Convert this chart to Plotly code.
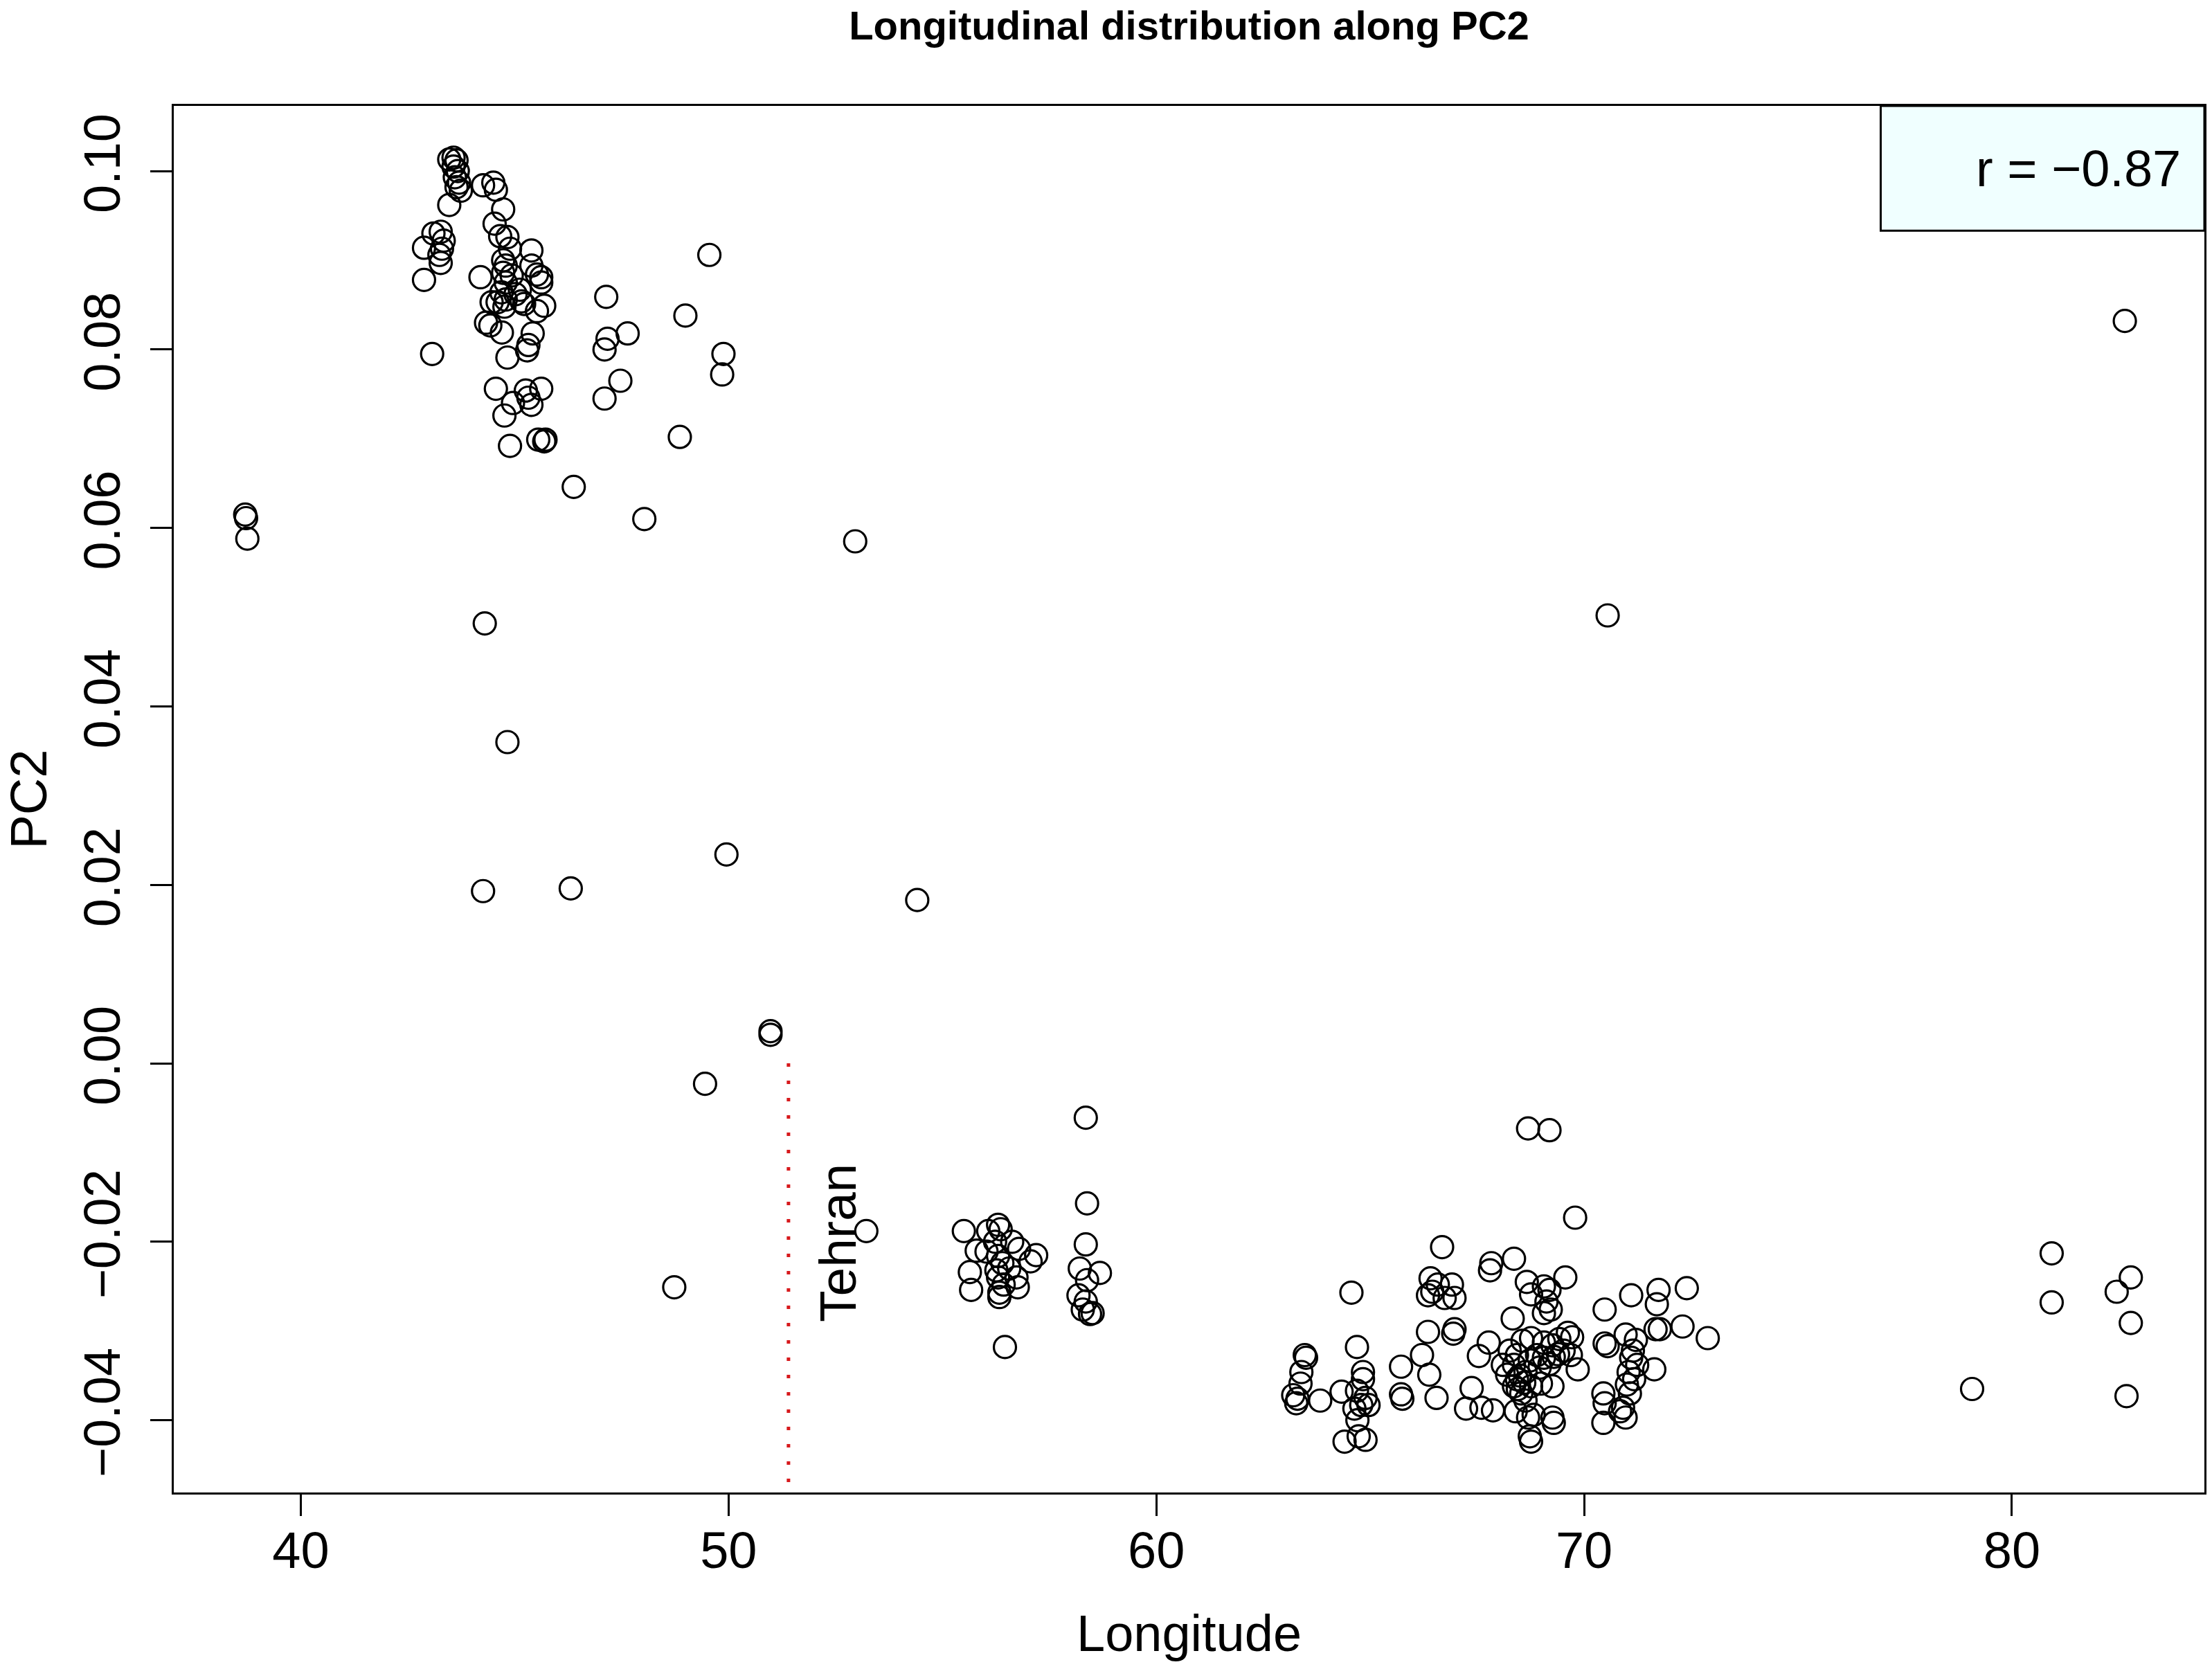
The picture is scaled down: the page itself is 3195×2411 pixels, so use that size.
import plotly.graph_objects as go

# Longitude / PC2 values, grouped by region
lon_west = [38.70, 38.72, 38.75]
pc2_west = [0.0615, 0.0611, 0.0588]

lon_caucasus = [43.47, 43.57, 43.64, 43.57, 43.67, 43.60, 43.70, 43.64, 43.74, 43.47,
                42.88, 43.10, 43.27, 43.34, 43.30, 43.24, 43.27, 42.88, 43.07,
                44.26, 44.50, 44.56, 44.73, 44.53, 44.66, 44.83, 44.89, 44.73, 44.79,
                44.73, 44.93, 44.79, 44.69, 44.79, 44.60, 44.76, 44.46, 44.20, 44.43,
                44.33, 44.70, 45.02, 45.12, 45.39, 45.39, 45.52, 45.62, 45.62, 45.16,
                45.22, 45.69, 45.52, 45.42, 45.32, 45.29, 44.83, 44.56, 45.26, 45.32,
                45.62, 45.39, 44.96, 44.76, 45.55, 45.69, 45.72, 44.89]
pc2_caucasus = [0.1013, 0.1015, 0.1012, 0.1005, 0.1000, 0.0993, 0.0987, 0.0982, 0.0978, 0.0962,
                0.0914, 0.0930, 0.0932, 0.0922, 0.0913, 0.0906, 0.0897, 0.0878, 0.0795,
                0.0984, 0.0987, 0.0979, 0.0957, 0.0941, 0.0927, 0.0926, 0.0913, 0.0900, 0.0894,
                0.0886, 0.0883, 0.0875, 0.0864, 0.0856, 0.0853, 0.0848, 0.0853, 0.0881, 0.0827,
                0.0830, 0.0819, 0.0862, 0.0867, 0.0911, 0.0894, 0.0884, 0.0881, 0.0875, 0.0854,
                0.0851, 0.0849, 0.0843, 0.0818, 0.0805, 0.0799, 0.0791, 0.0756, 0.0754, 0.0746,
                0.0756, 0.0738, 0.0740, 0.0726, 0.0699, 0.0697, 0.0699, 0.0692]

lon_zagros = [47.14, 47.17, 47.10, 47.64, 47.47, 47.10, 46.38, 48.03, 48.86, 48.99,
              49.55, 49.88, 49.85]
pc2_zagros = [0.0859, 0.0812, 0.0800, 0.0818, 0.0765, 0.0745, 0.0646, 0.0610, 0.0702, 0.0838,
              0.0906, 0.0795, 0.0772]

lon_scatter = [44.30, 44.83, 44.26, 46.31, 49.95, 52.96, 54.41, 50.98, 50.98, 49.45,
               48.73, 53.22, 70.55, 82.64]
pc2_scatter = [0.0493, 0.0360, 0.0193, 0.0196, 0.0234, 0.0585, 0.0183, 0.0036, 0.0032, -0.0023,
               -0.0251, -0.0188, 0.0502, 0.0832]

lon_khorasan = [55.50, 56.30, 56.07, 56.36, 56.23, 56.63, 55.80, 56.03, 56.79, 57.19,
                57.06, 56.30, 56.40, 55.64, 56.26, 56.56, 56.73, 56.30, 55.67, 56.43,
                56.33, 56.76, 56.33, 56.46,
                58.35, 58.38, 58.35, 58.21, 58.68, 58.38, 58.18, 58.35, 58.28, 58.45, 58.51]
pc2_khorasan = [-0.0188, -0.0181, -0.0188, -0.0186, -0.0200, -0.0200, -0.0210, -0.0211, -0.0208, -0.0215,
                -0.0222, -0.0216, -0.0224, -0.0234, -0.0232, -0.0230, -0.0240, -0.0240, -0.0254, -0.0248,
                -0.0257, -0.0251, -0.0262, -0.0318,
                -0.0061, -0.0157, -0.0203, -0.0230, -0.0235, -0.0243, -0.0260, -0.0267, -0.0276, -0.0281, -0.0280]

lon_central = [63.20, 63.27, 63.39, 63.47, 63.50, 63.37, 63.30, 63.83, 64.33, 64.40,
               64.56, 64.69, 64.83, 64.83, 64.69, 64.89, 64.63, 64.79, 64.73, 64.89,
               64.96, 64.70,
               65.72, 65.72, 65.75, 66.21, 66.35, 66.41, 66.45, 66.35, 66.38, 66.55,
               66.68, 66.58, 66.74, 66.91, 66.97, 66.97, 66.94, 67.24, 67.37, 67.54,
               67.60, 67.83, 67.80, 67.77, 67.87]
pc2_central = [-0.0372, -0.0381, -0.0346, -0.0327, -0.0330, -0.0359, -0.0376, -0.0378, -0.0368, -0.0424,
               -0.0257, -0.0318, -0.0346, -0.0354, -0.0367, -0.0375, -0.0387, -0.0383, -0.0418, -0.0422,
               -0.0383, -0.0400,
               -0.0340, -0.0371, -0.0376, -0.0327, -0.0260, -0.0241, -0.0256, -0.0301, -0.0349, -0.0375,
               -0.0206, -0.0248, -0.0263, -0.0248, -0.0263, -0.0298, -0.0303, -0.0387, -0.0364, -0.0328,
               -0.0386, -0.0224, -0.0232, -0.0313, -0.0389]

lon_east = [68.36, 68.69, 69.19, 69.79, 68.33, 68.66, 68.76, 69.06, 69.19, 69.12,
            69.06, 69.22, 69.56, 68.56, 68.76, 69.06, 69.26, 69.42, 69.62, 69.72,
            68.43, 68.36, 68.43, 68.63, 68.73, 68.90, 68.96, 69.06, 69.19, 69.29,
            69.39, 69.52, 69.69, 69.85, 68.20, 68.36, 68.53, 68.76, 68.99, 69.26,
            68.63, 68.40, 68.69, 68.82, 69.26, 69.29, 68.73, 68.76, 68.10, 68.26,
            68.50, 68.60, 68.45,
            70.48, 70.48, 70.55, 70.45, 70.48, 70.45, 70.84, 70.91, 70.97, 71.07,
            71.04, 71.10, 71.14, 71.21, 70.97, 71.10, 71.17, 71.24, 71.00, 71.67,
            71.64, 71.70, 71.74, 71.77, 72.40, 72.30, 72.89]
pc2_east = [-0.0219, -0.0073, -0.0075, -0.0173, -0.0286, -0.0245, -0.0259, -0.0250, -0.0254, -0.0267,
            -0.0280, -0.0276, -0.0240, -0.0311, -0.0308, -0.0313, -0.0316, -0.0309, -0.0302, -0.0307,
            -0.0327, -0.0338, -0.0354, -0.0346, -0.0333, -0.0327, -0.0341, -0.0330, -0.0337, -0.0329,
            -0.0326, -0.0322, -0.0327, -0.0343, -0.0349, -0.0362, -0.0370, -0.0362, -0.0359, -0.0362,
            -0.0378, -0.0390, -0.0397, -0.0394, -0.0397, -0.0403, -0.0418, -0.0424, -0.0338, -0.0322,
            -0.0350, -0.0358, -0.0365,
            -0.0276, -0.0314, -0.0317, -0.0370, -0.0381, -0.0403, -0.0390, -0.0386, -0.0397, -0.0370,
            -0.0346, -0.0330, -0.0322, -0.0310, -0.0304, -0.0260, -0.0354, -0.0338, -0.0360, -0.0298,
            -0.0343, -0.0270, -0.0254, -0.0298, -0.0252, -0.0295, -0.0308]

lon_far_east = [79.07, 80.93, 80.93, 82.45, 82.78, 82.78, 82.68]
pc2_far_east = [-0.0365, -0.0213, -0.0268, -0.0256, -0.0240, -0.0291, -0.0373]

x_ticks = [40, 50, 60, 70, 80]
y_ticks = [-0.04, -0.02, 0.00, 0.02, 0.04, 0.06, 0.08, 0.10]
y_ticklabels = ["\u22120.04", "\u22120.02", "0.00", "0.02", "0.04", "0.06", "0.08", "0.10"]

TEHRAN_LON = 51.4
r_value = -0.87

lon = lon_west + lon_caucasus + lon_zagros + lon_scatter + lon_khorasan + lon_central + lon_east + lon_far_east
pc2 = pc2_west + pc2_caucasus + pc2_zagros + pc2_scatter + pc2_khorasan + pc2_central + pc2_east + pc2_far_east

FONT = "Liberation Sans, Arial, sans-serif"
x_range = [37.03, 84.5]
y_range = [-0.0481, 0.1073]

fig = go.Figure()

fig.add_trace(go.Scatter(
    x=lon, y=pc2, mode="markers",
    marker=dict(symbol="circle-open", size=32, color="black", line=dict(width=3.2, color="black")),
    showlegend=False,
))

# Tehran marker line
fig.add_shape(type="line", xref="x", yref="y",
              x0=TEHRAN_LON, x1=TEHRAN_LON, y0=0, y1=y_range[0],
              line=dict(color="#d7191c", width=5, dash="5px,20px"))
fig.add_annotation(x=TEHRAN_LON + 1.15, y=-0.0201, xref="x", yref="y", text="Tehran",
                   textangle=-90, showarrow=False, font=dict(family=FONT, size=75, color="black"))

# correlation box (top right)
fig.add_shape(type="rect", xref="x domain", yref="y domain", x0=0.8406, x1=1.0, y0=0.910, y1=1.0,
              fillcolor="#f0ffff", line=dict(color="black", width=3), layer="below")
fig.add_annotation(xref="x domain", yref="y domain", x=0.989, y=0.955, xanchor="right", yanchor="middle",
                   text="r = \u2212%.2f" % abs(r_value), showarrow=False,
                   font=dict(family=FONT, size=74, color="black"))

# axis titles
fig.add_annotation(xref="paper", yref="paper", x=0.5, y=0, yshift=-203, yanchor="middle",
                   text="Longitude", showarrow=False, font=dict(family=FONT, size=74, color="black"))
fig.add_annotation(xref="paper", yref="paper", x=0, y=0.5, xshift=-210, xanchor="center",
                   text="PC2", textangle=-90, showarrow=False, font=dict(family=FONT, size=74, color="black"))

# the page body adds an 8px margin, so the figure is 16px smaller than the window
fig.update_layout(
    width=3179, height=2395,
    margin=dict(l=243, r=0, t=145, b=247),
    paper_bgcolor="white", plot_bgcolor="white",
    font=dict(family=FONT, color="black"),
    title=dict(text="<b>Longitudinal distribution along PC2</b>", x=0.5, xref="paper", xanchor="center",
               y=1 - 29 / 2395, yanchor="middle", yref="container",
               font=dict(family=FONT, size=58, color="black")),
)
fig.update_xaxes(range=x_range, tickvals=x_ticks, ticks="outside", ticklen=31, tickwidth=3,
                 tickcolor="black", showline=True, linecolor="black", linewidth=3, mirror=True,
                 showgrid=False, zeroline=False, tickfont=dict(family=FONT, size=74),
                 ticklabelstandoff=-14)
fig.update_yaxes(range=y_range, tickvals=y_ticks, ticktext=y_ticklabels, ticks="outside", ticklen=31,
                 tickwidth=3, tickcolor="black", showline=True, linecolor="black", linewidth=3,
                 mirror=True, showgrid=False, zeroline=False, tickangle=-90,
                 tickfont=dict(family=FONT, size=74), ticklabelstandoff=14)

fig.write_html("out.html")
